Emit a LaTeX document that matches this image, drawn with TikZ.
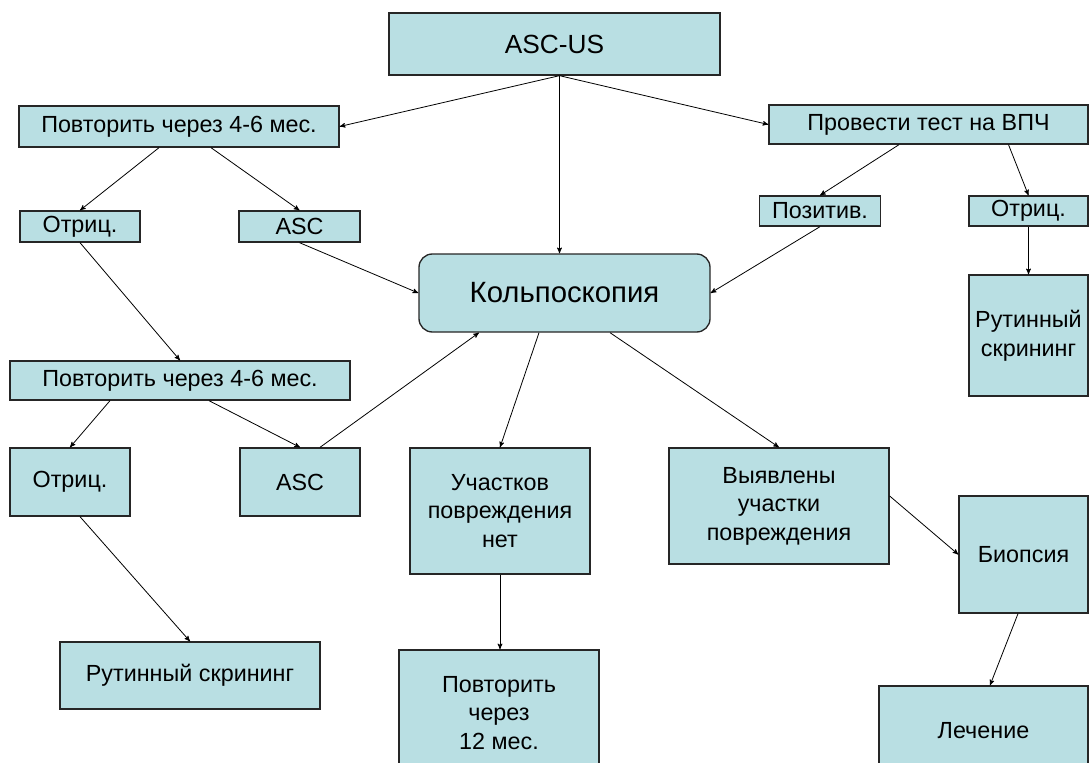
\documentclass[tikz,border=0pt]{standalone}
\usepackage{fontspec}
\setmainfont{Liberation Sans}
\usepackage{tikz}
\usetikzlibrary{arrows,calc,positioning}
\definecolor{boxblue}{RGB}{185,223,227}

\begin{document}
\begin{tikzpicture}[
        %We work in pixel units of the slide and define some styles
        x=0.75pt, y=-0.75pt,
        box/.style={draw=black!85, line width=1pt, fill=boxblue, inner sep=0pt,
            align=center, font=\fontsize{17.5}{21.4}\selectfont},
        boxsize/.style 2 args={minimum width=#1*0.75pt, minimum height=#2*0.75pt},
        link/.style={line width=0.6pt, ->, >=stealth'},
    ]
    \useasboundingbox (0,0) rectangle (1089,763);

    % Top
    \node[box, boxsize={331}{62}, font=\fontsize{19.7}{24}\selectfont] (ascus) at (554.5,44) {ASC-US};
    \coordinate (hub) at ($(ascus.south)+(5,0)$);

    % First branches
    \node[box, boxsize={320}{41}] (povt1) at (179,126.5) {Повторить через 4-6 мес.};
    \node[box, boxsize={319}{39}] (hpv) at (928.5,124.5) {Провести тест на ВПЧ};
    \node[box, boxsize={120}{31}] (neg1) at (80,226.5) {Отриц.};
    \node[box, boxsize={121}{31}] (asc1) at (299.5,226.5) {ASC};
    \node[box, boxsize={121}{30}] (pos) at (820,211) {Позитив.};
    \node[box, boxsize={119}{30}] (negr) at (1028.5,211) {Отриц.};

    % Colposcopy
    \node[box, boxsize={291}{78}, rounded corners=10pt, font=\fontsize{22}{26}\selectfont] (colpo) at (564.5,293) {Кольпоскопия};
    \node[box, boxsize={119}{121}] (routr) at (1028.5,335.5) {Рутинный\\скрининг};

    % Second repeat
    \node[box, boxsize={340}{39}] (povt2) at (180,380.5) {Повторить через 4-6 мес.};
    \node[box, boxsize={120}{68}] (neg2) at (70,482) {Отриц.};
    \node[box, boxsize={120}{68}] (asc2) at (300,482) {ASC};

    % Results
    \node[box, boxsize={180}{126}] (nolesion) at (500,511) {Участков\\повреждения\\нет};
    \node[box, boxsize={220}{116}] (lesion) at (779,506) {Выявлены\\участки\\повреждения};
    \node[box, boxsize={129}{117}] (biopsy) at (1023.5,554.5) {Биопсия};
    \node[box, boxsize={260}{67}] (routb) at (190,675.5) {Рутинный скрининг};
    \node[box, boxsize={200}{126}] (repeat12) at (499,713) {Повторить\\через\\12 мес.};
    \node[box, boxsize={209}{90}] (treat) at (983.5,731) {Лечение};

    % Arrows
    \draw[link] (hub) -- (povt1.east);
    \draw[link] (hub) -- (hpv.west);
    \draw[link] (hub) -- (hub |- colpo.north);
    \draw[link] ($(povt1.south)+(-20,0)$) -- (neg1.north);
    \draw[link] ($(povt1.south)+(32,0)$) -- (asc1.north);
    \draw[link] (neg1.south) -- (povt2.north);
    \draw[link] (asc1.south) -- (colpo.west);
    \draw[link] ($(hpv.south)+(-29.5,0)$) -- (pos.north);
    \draw[link] ($(hpv.south)+(80,0)$) -- (negr.north);
    \draw[link] (pos.south) -- (colpo.east);
    \draw[link] (negr.south) -- (routr.north);
    \draw[link] ($(povt2.south)+(-70,0)$) -- (neg2.north);
    \draw[link] ($(povt2.south)+(29,0)$) -- (asc2.north);
    \draw[link] ($(asc2.north)+(20,0)$) -- ($(colpo.south)+(-85.5,0)$);
    \draw[link] ($(neg2.south)+(10,0)$) -- (routb.north);
    \draw[link] ($(colpo.south)+(-25.5,0)$) -- (nolesion.north);
    \draw[link] ($(colpo.south)+(45.5,0)$) -- (lesion.north);
    \draw[link] (nolesion.south) -- (nolesion.south |- repeat12.north);
    \draw[link] ($(lesion.east)+(0,-10)$) -- (biopsy.west);
    \draw[link] ($(biopsy.south)+(-5.5,0)$) -- ($(treat.north)+(6.5,0)$);
\end{tikzpicture}
\end{document}
